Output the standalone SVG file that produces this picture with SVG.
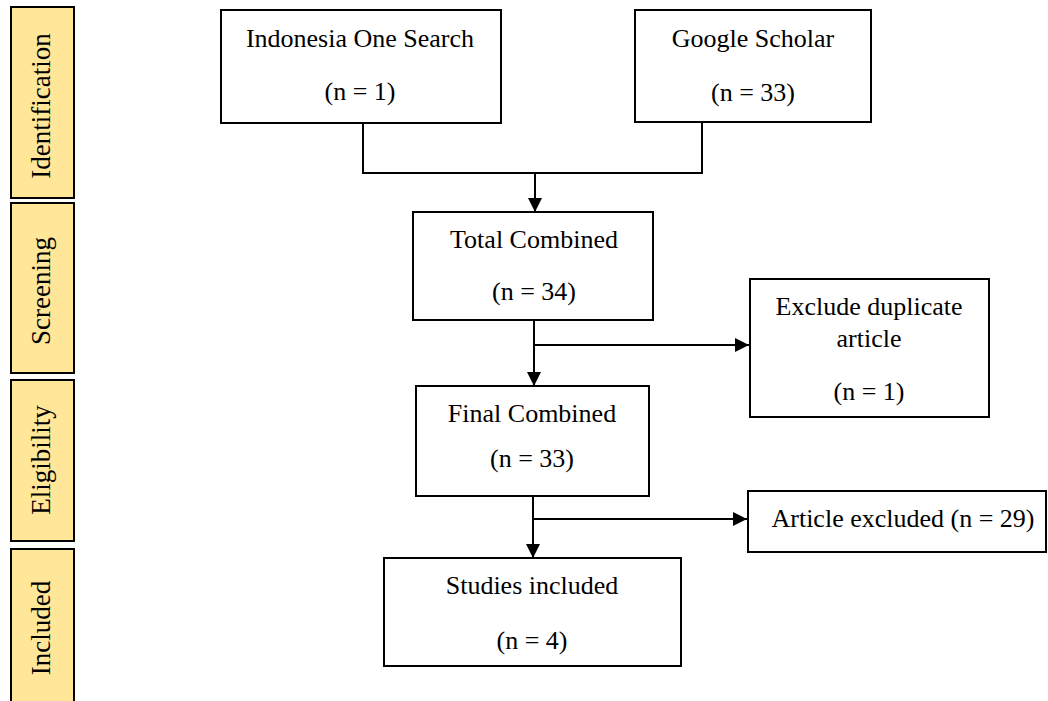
<svg xmlns="http://www.w3.org/2000/svg" width="1048" height="701" viewBox="0 0 1048 701">
<defs>
<style>
.box{fill:#fff;stroke:#000;stroke-width:2}
.phase{fill:#FFE699;stroke:#000;stroke-width:2}
.t{font-family:"Liberation Serif","Times New Roman",serif;font-size:26px;fill:#000;text-anchor:middle}
.pt{font-family:"Liberation Serif","Times New Roman",serif;font-size:27px;fill:#000;text-anchor:middle}
.ln{fill:none;stroke:#000;stroke-width:2}
.arr{fill:none;stroke:#000;stroke-width:2;marker-end:url(#ah)}
</style>
<marker id="ah" markerWidth="14" markerHeight="14" refX="14" refY="7" orient="auto" markerUnits="userSpaceOnUse">
<path d="M0,0 L14,7 L0,14 Z" fill="#000"/>
</marker>
</defs>
<rect width="1048" height="701" fill="#fff"/>
<g id="phase-identification"><rect class="phase" x="11" y="7" width="63" height="191"/><text class="pt" transform="translate(50,106) rotate(-90)">Identification</text></g>
<g id="phase-screening"><rect class="phase" x="11" y="203" width="63" height="170"/><text class="pt" transform="translate(50,291) rotate(-90)">Screening</text></g>
<g id="phase-eligibility"><rect class="phase" x="11" y="380" width="63" height="161"/><text class="pt" transform="translate(50,460) rotate(-90)">Eligibility</text></g>
<g id="phase-included"><rect class="phase" x="11" y="549" width="63" height="160"/><text class="pt" transform="translate(50,628) rotate(-90)">Included</text></g>
<g id="connectors">
<polyline class="ln" points="363,123 363,173 702,173 702,122"/>
<line class="arr" x1="535" y1="172" x2="535" y2="212"/>
<line class="arr" x1="534" y1="318" x2="534" y2="386"/>
<line class="arr" x1="534" y1="345" x2="749" y2="345"/>
<line class="arr" x1="533" y1="490" x2="533" y2="558"/>
<line class="arr" x1="533" y1="519" x2="747" y2="519"/>
</g>
<g id="indonesia"><rect class="box" x="221" y="10" width="280" height="113"/><text class="t" x="360" y="47">Indonesia One Search</text><text class="t" x="360" y="100">(n = 1)</text></g>
<g id="google"><rect class="box" x="635" y="10" width="236" height="112"/><text class="t" x="753" y="47">Google Scholar</text><text class="t" x="753" y="101">(n = 33)</text></g>
<g id="total"><rect class="box" x="413" y="212" width="240" height="108"/><text class="t" x="534" y="248">Total Combined</text><text class="t" x="534" y="300">(n = 34)</text></g>
<g id="exclude"><rect class="box" x="750" y="279" width="239" height="138"/><text class="t" x="869" y="315">Exclude duplicate</text><text class="t" x="869" y="347">article</text><text class="t" x="869" y="400">(n = 1)</text></g>
<g id="final"><rect class="box" x="416" y="386" width="233" height="110"/><text class="t" x="532" y="422">Final Combined</text><text class="t" x="532" y="467">(n = 33)</text></g>
<g id="article"><rect class="box" x="748" y="491" width="298" height="61"/><text class="t" x="903" y="527">Article excluded (n = 29)</text></g>
<g id="studies"><rect class="box" x="384" y="558" width="297" height="108"/><text class="t" x="532" y="594">Studies included</text><text class="t" x="532" y="649">(n = 4)</text></g>
</svg>
